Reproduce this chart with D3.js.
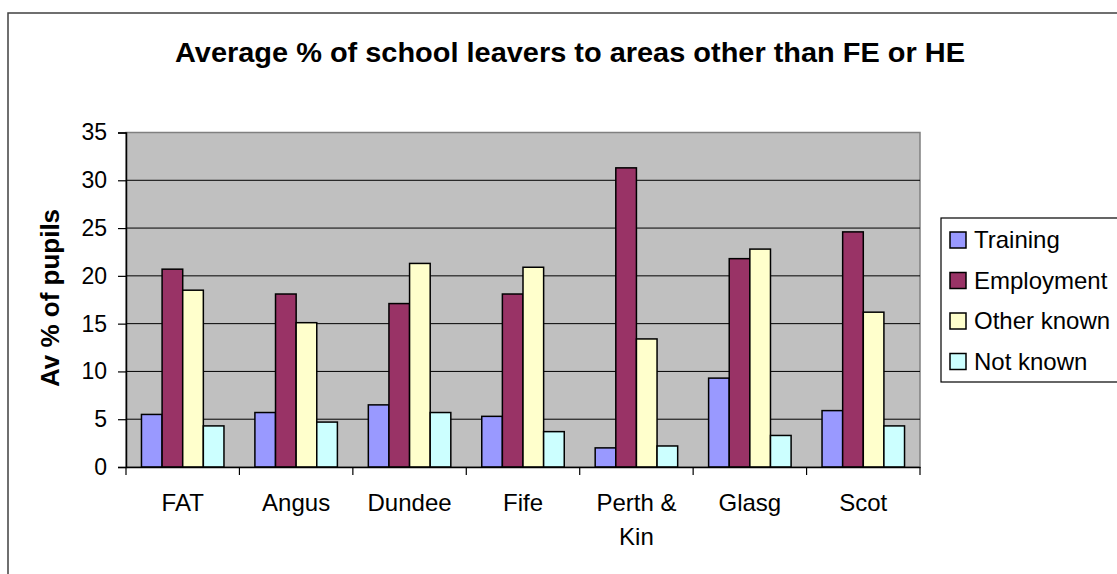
<!DOCTYPE html>
<html><head><meta charset="utf-8">
<script src="https://cdn.jsdelivr.net/npm/d3@7"></script>
<style>body{margin:0;background:#fff;} text{font-family:"Liberation Sans",Arial,sans-serif;}</style>
</head><body>
<svg id="c" width="1117" height="574"></svg>
<script>
const categories = ["FAT","Angus","Dundee","Fife","Perth & Kin","Glasg","Scot"];
const categoryLines = [["FAT"],["Angus"],["Dundee"],["Fife"],["Perth &","Kin"],["Glasg"],["Scot"]];
const seriesNames = ["Training","Employment","Other known","Not known"];
const training   = [5.5, 5.7, 6.5, 5.3, 2.0, 9.3, 5.9];
const employment = [20.7, 18.1, 17.1, 18.1, 31.3, 21.8, 24.6];
const otherKnown = [18.5, 15.1, 21.3, 20.9, 13.4, 22.8, 16.2];
const notKnown   = [4.3, 4.7, 5.7, 3.7, 2.2, 3.3, 4.3];
const yTicks = [0,5,10,15,20,25,30,35];
const colors = ["#9999FF","#993366","#FFFFCC","#CCFFFF"];
const title = "Average % of school leavers to areas other than FE or HE";
const yLabel = "Av % of pupils";

const series = [training, employment, otherKnown, notKnown];
const svg = d3.select("#c");

// outer chart border
svg.append("rect").attr("x",8).attr("y",13).attr("width",1200).attr("height",700)
  .attr("fill","none").attr("stroke","#404040").attr("stroke-width",1.5);

const L=126, R=920, T=132.5, B=467;
const x = d3.scaleBand().domain(categories).range([L,R]).paddingInner(0).paddingOuter(0);
const y = d3.scaleLinear().domain([0,35]).range([B,T]);
const bw = x.bandwidth()/5.5;

svg.append("rect").attr("x",L).attr("y",T).attr("width",R-L).attr("height",B-T)
  .attr("fill","#C0C0C0").attr("stroke","#808080").attr("stroke-width",1.5);

// gridlines
svg.append("g").selectAll("line").data(yTicks.filter(v=>v>0&&v<35)).join("line")
  .attr("x1",L).attr("x2",R).attr("y1",d=>y(d)).attr("y2",d=>y(d))
  .attr("stroke","#000").attr("stroke-width",1);

// bars
series.forEach((s,si)=>{
  svg.append("g").selectAll("rect").data(s).join("rect")
    .attr("x",(d,i)=>x(categories[i]) + 0.75*bw + si*bw)
    .attr("y",d=>y(d)).attr("width",bw).attr("height",d=>B-y(d))
    .attr("fill",colors[si]).attr("stroke","#000").attr("stroke-width",1.5);
});

// y axis
const ya = svg.append("g").attr("transform",`translate(${L},0)`)
  .call(d3.axisLeft(y).tickValues(yTicks).tickSize(8).tickPadding(11));
ya.select(".domain").attr("stroke","#000").attr("stroke-width",1.5);
ya.selectAll(".tick line").attr("stroke","#000").attr("stroke-width",1.2);
ya.selectAll(".tick text").attr("font-size",23).attr("fill","#000")
  .style("font-family","'Liberation Sans',Arial,sans-serif");

// x axis
const xa = svg.append("g").attr("transform",`translate(0,${B})`)
  .call(d3.axisBottom(x).tickSize(0).tickFormat(""));
xa.select(".domain").attr("stroke","#000").attr("stroke-width",1.5);
xa.selectAll(".tick line").remove();
const bounds = categories.map(c=>x(c)).concat([R]);
svg.append("g").selectAll("line").data(bounds).join("line")
  .attr("x1",d=>d).attr("x2",d=>d).attr("y1",B).attr("y2",B+8)
  .attr("stroke","#000").attr("stroke-width",1.2);
const cl = svg.append("g").selectAll("text").data(categories).join("text")
  .attr("x",d=>x(d)+x.bandwidth()/2).attr("y",511)
  .attr("text-anchor","middle").attr("font-size",24).attr("fill","#000");
cl.each(function(d,i){
  const t=d3.select(this);
  categoryLines[i].forEach((ln,k)=>{
    t.append("tspan").attr("x",x(d)+x.bandwidth()/2).attr("dy",k===0?0:34).text(ln);
  });
});

// title
svg.append("text").attr("x",570).attr("y",62).attr("text-anchor","middle")
  .attr("font-size",27).attr("font-weight","bold").attr("fill","#000")
  .attr("textLength",790).attr("lengthAdjust","spacingAndGlyphs").text(title);

// y label
svg.append("text").attr("transform","translate(59,298) rotate(-90)")
  .attr("text-anchor","middle").attr("font-size",26).attr("font-weight","bold")
  .attr("fill","#000").text(yLabel);

// legend
svg.append("rect").attr("x",941).attr("y",218).attr("width",300).attr("height",164)
  .attr("fill","#fff").attr("stroke","#000").attr("stroke-width",1.2);
const lg = svg.append("g").selectAll("g").data(seriesNames).join("g")
  .attr("transform",(d,i)=>`translate(950,${240+i*40.5})`);
lg.append("rect").attr("x",0).attr("y",-8).attr("width",16).attr("height",16)
  .attr("fill",(d,i)=>colors[i]).attr("stroke","#000").attr("stroke-width",1.5);
lg.append("text").attr("x",24).attr("y",8).attr("font-size",24).attr("fill","#000").text(d=>d);
</script>
</body></html>
